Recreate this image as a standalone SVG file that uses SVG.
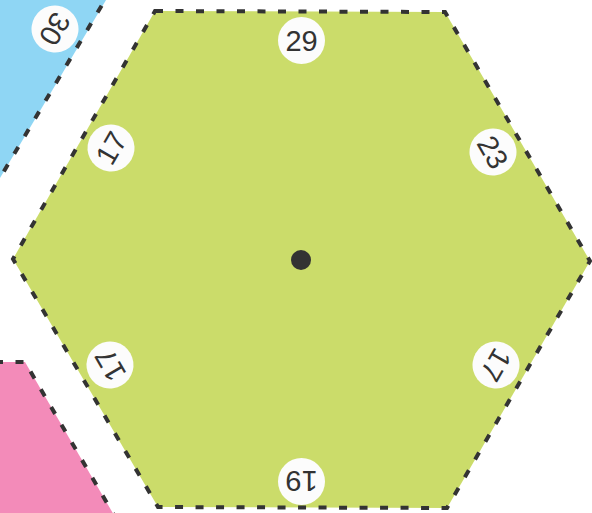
<svg xmlns="http://www.w3.org/2000/svg" width="592" height="513" viewBox="0 0 592 513">
<style>
.edge{fill:none;stroke:#333;stroke-width:4;stroke-dasharray:8 12.5}
.lbl circle{fill:#fcfcfc}
.lbl text{font-family:"Liberation Sans",Arial,sans-serif;font-size:29px;fill:#333;text-anchor:middle}
</style>
<rect width="592" height="513" fill="#fff"/>
<g id="blue">
<polygon points="0,-10 112,-10 0,178" fill="#8fd6f4"/>
<path class="edge" d="M112,-12 L0,178"/>
<g class="lbl" transform="translate(55,29) rotate(120)"><circle r="23.5"/><text dy="10.3">30</text></g>
</g>
<g id="pink">
<polygon points="-5,362 25,362 118,522 -5,522" fill="#f38bb9"/>
<path class="edge" d="M-5,362 L25,362 L118,522"/>
</g>
<g id="green">
<polygon points="155,11 445,12 590,261 447,508 158,507 13,259" fill="#cbdc6a"/>
<polygon class="edge" points="155,11 445,12 590,261 447,508 158,507 13,259"/>
<circle cx="301" cy="260" r="10" fill="#333"/>
<g class="lbl" transform="translate(301.5,40.5)"><circle r="23.5"/><text dy="10.3">29</text></g>
<g class="lbl" transform="translate(493,152) rotate(60)"><circle r="23.5"/><text dy="10.3">23</text></g>
<g class="lbl" transform="translate(496,365) rotate(120)"><circle r="23.5"/><text dy="10.3">17</text></g>
<g class="lbl" transform="translate(301.5,481.5) rotate(180)"><circle r="23.5"/><text dy="10.3">19</text></g>
<g class="lbl" transform="translate(110,365) rotate(240)"><circle r="23.5"/><text dy="10.3">17</text></g>
<g class="lbl" transform="translate(111,148) rotate(-60)"><circle r="23.5"/><text dy="10.3">17</text></g>
</g>
<g id="connectors"/>
</svg>
